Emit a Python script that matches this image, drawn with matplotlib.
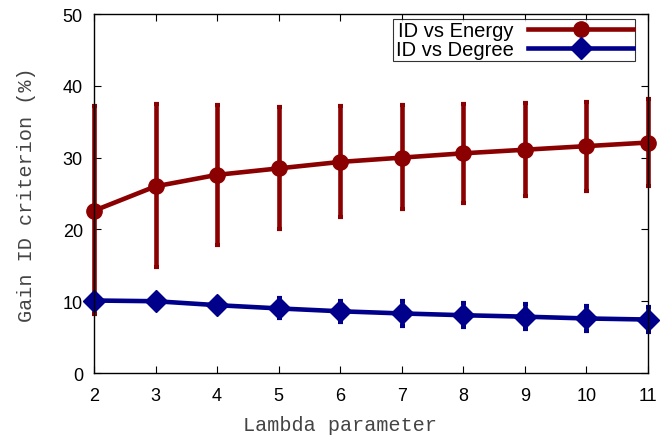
import matplotlib
matplotlib.use("Agg")
import matplotlib.pyplot as plt
from matplotlib.lines import Line2D

lam = [2, 3, 4, 5, 6, 7, 8, 9, 10, 11]
energy = [22.6, 26.0, 27.6, 28.5, 29.4, 30.0, 30.6, 31.1, 31.6, 32.1]
energy_top = [37.2, 37.4, 37.3, 37.1, 37.2, 37.3, 37.5, 37.6, 37.8, 38.2]
energy_bot = [8.2, 14.7, 17.9, 20.0, 21.7, 22.8, 23.7, 24.6, 25.3, 26.0]
degree = [10.1, 10.0, 9.45, 9.0, 8.6, 8.3, 8.05, 7.85, 7.6, 7.45]
degree_err = [0.5, 0.7, 1.0, 1.4, 1.5, 1.7, 1.7, 1.75, 1.7, 1.75]
series_labels = ["ID vs Energy", "ID vs Degree"]

red = "#8b0000"
blue = "#00008b"

fig = plt.figure(figsize=(6.68, 4.39), dpi=100)
ax = fig.add_axes([0.1407, 0.148, 0.8293, 0.8178])

e_lo = [e - b for e, b in zip(energy, energy_bot)]
e_hi = [t - e for e, t in zip(energy, energy_top)]
c1 = ax.errorbar(lam, energy, yerr=[e_lo, e_hi], color=red, lw=3.3, elinewidth=3.3,
                 capsize=1.8, capthick=3, marker="o", ms=11, zorder=3)
c2 = ax.errorbar(lam, degree, yerr=degree_err, color=blue, lw=3.3, elinewidth=3.3,
                 capsize=1.8, capthick=3, marker="D", ms=11, zorder=4)
for c in (c1, c2):
    for ch in c.get_children():
        ch.set_clip_on(False)

ax.set_xlim(2, 11)
ax.set_ylim(0, 50)
ax.set_xticks(lam)
ax.set_yticks([0, 10, 20, 30, 40, 50])
ax.tick_params(axis="x", pad=10)
ax.tick_params(axis="y", pad=8)
ax.tick_params(direction="in", top=True, right=True, length=5, width=0.8,
               labelsize=13)
for lbl in ax.get_xticklabels() + ax.get_yticklabels():
    lbl.set_fontfamily("Liberation Sans")
for s in ax.spines.values():
    s.set_linewidth(1.0)
    s.set_zorder(5)

ax.set_xlabel("Lambda parameter", family="Liberation Mono", fontsize=14.5,
              color="#444444")
ax.set_ylabel("Gain ID criterion (%)", family="Liberation Mono", fontsize=14.5,
              color="#444444")
ax.xaxis.set_label_coords(0.444, -0.142)
ax.xaxis.label.set_va("center")
ax.yaxis.set_label_coords(-0.122, 0.5)
ax.yaxis.label.set_va("center")

handles = [Line2D([], [], color=red, lw=3.3, marker="o", ms=11),
           Line2D([], [], color=blue, lw=3.3, marker="D", ms=11)]
leg = ax.legend(handles, series_labels, loc="upper right", bbox_to_anchor=(0.977, 0.986),
                markerfirst=False, frameon=True, fancybox=False, handlelength=5.2,
                prop={"family": "Liberation Sans", "size": 14.5},
                borderpad=0.1, labelspacing=0.0, handletextpad=0.75, borderaxespad=0)
leg.get_frame().set_edgecolor("black")
leg.get_frame().set_linewidth(0.8)
for t in leg.get_texts():
    t.set_ha("right")

fig.savefig("out.png", dpi=100)
